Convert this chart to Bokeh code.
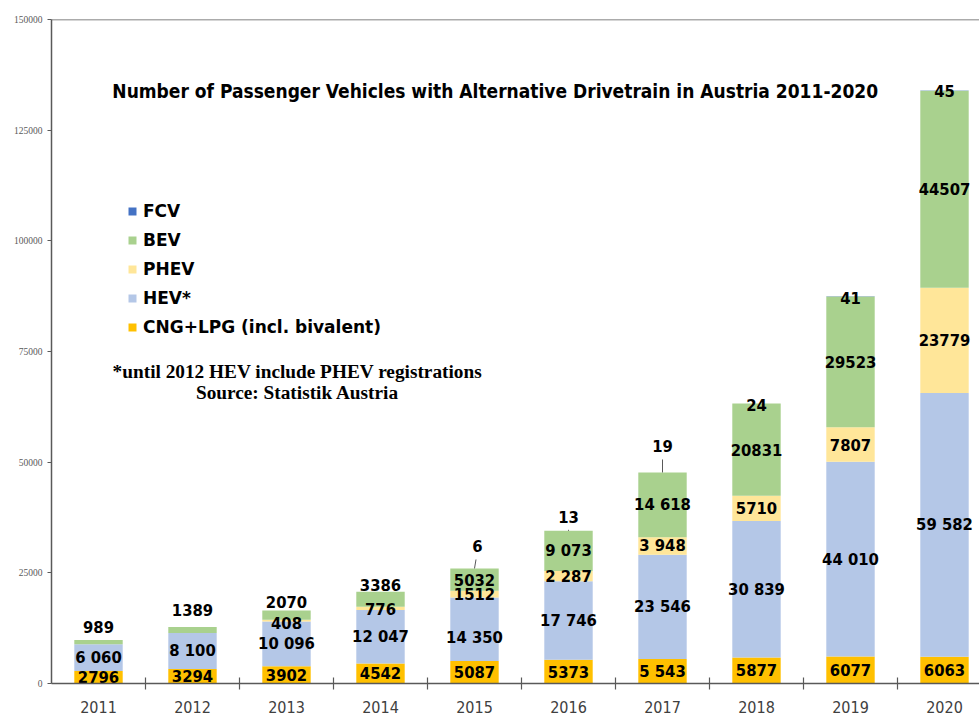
import numpy as np
from bokeh.plotting import figure
from bokeh.models import (ColumnDataSource, FixedTicker, NumeralTickFormatter,
                          BasicTickFormatter, Legend, LegendItem, Label, Span, Range1d)
from bokeh.core.properties import value
from bokeh.embed import file_html
from bokeh.resources import INLINE

# ---------------- data ----------------
years = [2011, 2012, 2013, 2014, 2015, 2016, 2017, 2018, 2019, 2020]
cng = [2796, 3294, 3902, 4542, 5087, 5373, 5543, 5877, 6077, 6063]
hev = [6060, 8100, 10096, 12047, 14350, 17746, 23546, 30839, 44010, 59582]
phev = [0, 0, 408, 776, 1512, 2287, 3948, 5710, 7807, 23779]
bev = [989, 1389, 2070, 3386, 5032, 9073, 14618, 20831, 29523, 44507]
fcv = [0, 0, 0, 0, 6, 13, 19, 24, 41, 45]

series_keys = ["cng", "hev", "phev", "bev", "fcv"]
series_names = ["CNG+LPG (incl. bivalent)", "HEV*", "PHEV", "BEV", "FCV"]
y_ticks = [0, 25000, 50000, 75000, 100000, 125000, 150000]

title_text = "Number of Passenger Vehicles with Alternative Drivetrain in Austria 2011-2020"
note_lines = ["*until 2012 HEV include PHEV registrations", "Source: Statistik Austria"]

# years whose value labels are written with a digit-group space
grouped_years = {"cng": [2017], "hev": years, "phev": [2016, 2017], "bev": [2016, 2017], "fcv": []}

# ---------------- style ----------------
colors = ["#FFC000", "#B4C7E7", "#FFE699", "#A9D18E", "#4472C4"]
FONT = "DejaVu Sans Condensed, DejaVu Sans"
LEG_FONT = "DejaVu Sans"
SERIF = "Liberation Serif"
AXIS_COL = "#595959"

W, H = 979, 715
BL, BR, BT, BB = 51, 0, 19, 31
FH = H - BT - BB
FW = W - BL - BR
Y_MAX = y_ticks[-1]
PX_PER_YEAR = 94.0
x_start = years[0] - 0.5
x_end = x_start + FW / PX_PER_YEAR
UNITS_PER_PX = Y_MAX / FH
REF_SCALE = FH / 665.0


def ref_y(py):
    # reference pixel row -> screen units from the frame bottom
    return (684 - py) * REF_SCALE


def ref_x(px):
    return px - 51


# label nudges (screen px, positive = down) for crowded segments
LABEL_DY = {("bev", 2011): -15, ("bev", 2012): -20, ("bev", 2013): -13, ("bev", 2014): -14,
            ("phev", 2013): 2, ("phev", 2014): 1, ("hev", 2015): 8,
            ("fcv", 2015): -22, ("fcv", 2016): -14, ("fcv", 2017): -26,
            ("fcv", 2018): 2, ("fcv", 2019): 2, ("fcv", 2020): 1}
LABEL_DX = {("fcv", 2015): 3}

p = figure(width=W, height=H, x_range=Range1d(x_start, x_end), y_range=Range1d(0, Y_MAX),
           output_backend="svg", toolbar_location=None,
           min_border_left=BL, min_border_right=BR, min_border_top=BT, min_border_bottom=BB)
p.outline_line_color = None
p.xgrid.visible = False
p.ygrid.visible = False
p.background_fill_color = "white"
p.border_fill_color = "white"

data = {"year": years, "cng": cng, "hev": hev, "phev": phev, "bev": bev, "fcv": fcv}
src = ColumnDataSource(data)
renderers = p.vbar_stack(series_keys, x="year", width=0.515, color=colors, source=src,
                         line_color=None)

# ---------------- value labels ----------------
vals = np.array([cng, hev, phev, bev, fcv], dtype=float)
tops = np.cumsum(vals, axis=0)
centers = tops - vals / 2.0
lx, ly, lt, ldy, ldx = [], [], [], [], []
leaders = {"x0": [], "y0": [], "x1": [], "y1": []}
for si, key in enumerate(series_keys):
    for yi, yr in enumerate(years):
        v = int(vals[si, yi])
        if v <= 0:
            continue
        if yr in grouped_years[key]:
            txt = f"{v:,}".replace(",", " ")
        else:
            txt = str(v)
        yy = tops[si, yi] if key == "fcv" else centers[si, yi]
        dy = LABEL_DY.get((key, yr), 0)
        dx = LABEL_DX.get((key, yr), 0)
        lx.append(yr)
        ly.append(yy)
        lt.append(txt)
        ldy.append(dy)
        ldx.append(dx)
        if key == "fcv" and dy < -12:
            leaders["x0"].append(yr)
            leaders["y0"].append(tops[si, yi])
            leaders["x1"].append(yr + dx / PX_PER_YEAR * 0.5)
            leaders["y1"].append(tops[si, yi] + (-dy - 13) * UNITS_PER_PX)

p.segment(x0="x0", y0="y0", x1="x1", y1="y1", source=ColumnDataSource(leaders),
          line_color=AXIS_COL, line_width=1)
lab_src = ColumnDataSource({"x": lx, "y": ly, "text": lt, "dy": ldy, "dx": ldx})
p.text(x="x", y="y", text="text", x_offset="dx", y_offset="dy", source=lab_src,
       text_font=value(FONT), text_font_style="bold", text_font_size="16.5px",
       text_align="center", text_baseline="middle", text_color="black")

# ---------------- axes ----------------
p.xaxis.ticker = FixedTicker(ticks=years, minor_ticks=[y + 0.5 for y in years[:-1]])
p.xaxis.formatter = BasicTickFormatter(use_scientific=False)
p.xaxis.major_tick_in = 0
p.xaxis.major_tick_out = 0
p.xaxis.minor_tick_in = 6
p.xaxis.minor_tick_out = 6
p.xaxis.minor_tick_line_color = AXIS_COL
p.xaxis.minor_tick_line_width = 1.2
p.xaxis.axis_line_color = AXIS_COL
p.xaxis.axis_line_width = 1.5
p.xaxis.major_label_text_font = FONT
p.xaxis.major_label_text_font_size = "16px"
p.xaxis.major_label_text_color = "#404040"
p.xaxis.major_label_standoff = 11

p.yaxis.ticker = FixedTicker(ticks=y_ticks)
p.yaxis.formatter = NumeralTickFormatter(format="0")
p.yaxis.major_tick_in = 0
p.yaxis.major_tick_out = 4
p.yaxis.minor_tick_in = 0
p.yaxis.minor_tick_out = 0
p.yaxis.major_tick_line_color = AXIS_COL
p.yaxis.axis_line_color = AXIS_COL
p.yaxis.axis_line_width = 1.5
p.yaxis.major_label_text_font = SERIF
p.yaxis.major_label_text_font_size = "9.5px"
p.yaxis.major_label_text_color = AXIS_COL
p.yaxis.major_label_standoff = 5

p.add_layout(Span(location=Y_MAX, dimension="width", line_color=AXIS_COL, line_width=1.5))

# ---------------- legend ----------------
order = [4, 3, 2, 1, 0]
items = [LegendItem(label=series_names[i], renderers=[renderers[i]]) for i in order]
legend = Legend(items=items, location=(ref_x(127), ref_y(337.5)), orientation="vertical",
                label_text_font=LEG_FONT, label_text_font_style="bold", label_text_font_size="17px",
                label_text_color="black", glyph_width=10, glyph_height=10, label_height=20,
                spacing=9, label_standoff=6, padding=0, margin=0,
                border_line_color=None, background_fill_alpha=0)
p.add_layout(legend)

# ---------------- title and notes ----------------
p.add_layout(Label(x=ref_x(494.7), y=ref_y(91), x_units="screen", y_units="screen",
                   text=title_text, text_align="center", text_baseline="middle",
                   text_font=FONT, text_font_style="bold", text_font_size="19px",
                   text_color="black"))
for txt, py in zip(note_lines, [372, 393]):
    p.add_layout(Label(x=ref_x(297), y=ref_y(py), x_units="screen", y_units="screen",
                       text=txt, text_align="center", text_baseline="middle",
                       text_font=SERIF, text_font_style="bold", text_font_size="19.3px",
                       text_color="black"))

open("out.html", "w").write(file_html(p, INLINE))
